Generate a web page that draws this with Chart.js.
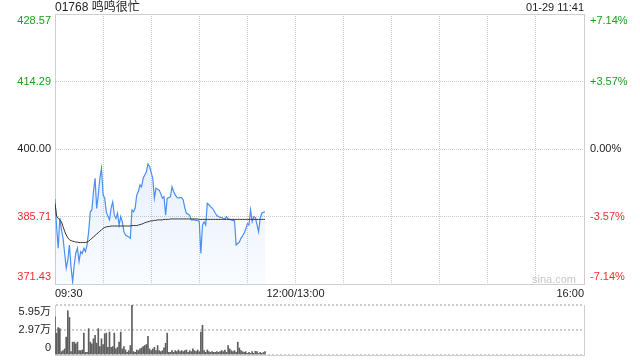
<!DOCTYPE html>
<html><head><meta charset="utf-8">
<script src="https://cdn.jsdelivr.net/npm/chart.js@4"></script>
<style>
html,body{margin:0;padding:0;background:#fff;width:640px;height:360px;overflow:hidden;font-family:"Liberation Sans",Arial,"Noto Sans CJK SC",sans-serif;}
#price{position:absolute;left:0;top:0;}
#vol{position:absolute;left:0;top:300px;}
.txt{position:absolute;white-space:nowrap;}
</style></head><body>
<canvas id="price" width="640" height="300"></canvas>
<canvas id="vol" width="640" height="60"></canvas>
<div class="txt" style="left:55px;top:0px;font-size:12px;line-height:14px;color:#222">01768 鸣鸣很忙</div>
<div class="txt" style="right:56px;top:0px;font-size:11px;line-height:14px;color:#222">01-29 11:41</div>
<div class="txt" style="left:532px;top:272px;font-size:11px;line-height:14px;color:#c8c8c8">sina.com</div>
<script>
const prevClose = 400;
const priceTicks = [371.43, 385.71, 400.00, 414.29, 428.57];
const priceTickLabels = ['371.43', '385.71', '400.00', '414.29', '428.57'];
const pctTickLabels = ['-7.14%', '-3.57%', '0.00%', '+3.57%', '+7.14%'];
const xTickMinutes = [0, 30, 60, 90, 120, 150, 180, 210, 240, 270, 300, 330];
const xTickLabels = ['09:30', '', '', '', '', '12:00/13:00', '', '', '', '', '', '16:00'];
const volTicks = [0, 29750, 59500];
const volTickLabels = ['0', '2.97万', '5.95万'];

const priceValues = [389.4,383.5,379.0,385.4,383.0,381.2,378.0,374.8,376.5,379.7,
375.0,371.9,375.5,378.0,379.0,376.2,378.3,377.9,379.0,378.3,
379.7,382.5,386.7,387.1,391.0,393.8,387.4,390.3,393.8,395.9,
390.3,389.6,386.7,385.8,385.0,387.5,388.8,386.0,385.3,386.4,
383.9,385.7,384.6,382.5,381.8,381.6,381.4,381.1,387.1,386.7,
387.5,390.3,391.0,392.4,392.0,393.8,394.5,395.2,396.8,396.3,
395.0,393.8,389.6,391.7,391.5,391.3,390.5,389.6,389.9,386.0,
389.6,389.7,389.9,392.0,391.0,390.3,389.8,389.6,389.7,389.7,
389.2,387.5,386.4,386.2,386.0,385.0,385.0,385.0,384.9,384.9,
384.6,377.9,383.9,384.6,383.9,388.5,388.2,387.8,387.5,387.1,
386.4,385.9,385.7,385.5,385.5,385.3,385.2,385.7,385.2,385.1,
385.0,384.9,384.8,379.7,380.0,380.3,381.1,381.6,382.2,383.0,
384.2,383.9,387.1,384.6,385.7,385.5,384.0,382.5,385.3,386.4,
386.6,386.7];

const avgValues = [388.5,385.8,385.3,385.0,384.6,383.6,382.6,381.8,381.2,380.8,
380.6,380.5,380.4,380.3,380.3,380.2,380.2,380.2,380.2,380.2,
380.3,380.5,380.8,381.1,381.4,381.7,382.0,382.3,382.6,382.9,
383.2,383.4,383.5,383.6,383.6,383.7,383.7,383.7,383.7,383.7,
383.7,383.7,383.7,383.7,383.7,383.7,383.7,383.7,383.8,383.8,
383.8,383.8,383.9,384.0,384.1,384.2,384.4,384.5,384.6,384.7,
384.8,384.8,384.9,384.9,385.0,385.0,385.0,385.0,385.1,385.1,
385.1,385.1,385.2,385.2,385.2,385.2,385.2,385.2,385.2,385.2,
385.2,385.2,385.2,385.2,385.2,385.2,385.2,385.2,385.2,385.2,
385.1,385.1,385.1,385.1,385.1,385.1,385.1,385.1,385.1,385.1,
385.1,385.1,385.1,385.1,385.1,385.1,385.1,385.1,385.1,385.1,
385.1,385.1,385.1,385.1,385.1,385.1,385.1,385.1,385.1,385.1,
385.1,385.1,385.1,385.1,385.1,385.1,385.1,385.1,385.1,385.1,
385.1,385.1];

const volumeValues = [45400,26100,32600,31400,4000,5200,7200,21300,52700,44600,
4000,15300,15300,13300,15300,5200,5200,6000,26100,3200,
3200,31400,15300,13300,19300,23300,14100,31400,10000,19300,
12500,25300,26100,9200,27300,9200,10000,26100,7200,9200,
15300,27300,7200,10000,6000,3200,5200,11300,59500,4000,
3200,6000,5200,7200,8400,10000,11300,12500,22100,7200,
5200,7200,9200,5200,11300,5200,4000,5200,8400,14000,
26000,3200,3200,5200,3200,5200,4000,6000,4000,5200,
4000,5200,6000,3200,5200,4000,7200,5200,4000,6000,
4000,27300,35400,5200,3200,6000,4000,3200,4000,3200,
3200,4000,3200,4000,5200,4000,6000,3200,11300,7200,
5200,4000,5200,3200,15300,8400,5200,4000,3200,4000,
2000,3200,2000,4000,2000,4400,4000,2000,3200,2000,
3000,4000];

const FONT = '"Liberation Sans", Arial, "Noto Sans CJK SC", sans-serif';
const GREEN = '#1a9f1a', RED = '#f02c2c', DARK = '#222';
const GRID = '#cccccc', BORDER = '#cfcfcf';

function edgeLabel(text, idx, n) {
  if (idx === n - 1) return ['', text];
  if (idx === 0) return [text, ''];
  return text;
}
function noPad(s) { s.paddingTop = 0; s.paddingBottom = 0; }
const pctMin = (priceTicks[0] / prevClose - 1) * 100;
const pctMax = (priceTicks[priceTicks.length - 1] / prevClose - 1) * 100;
const pctTicks = priceTicks.map(p => (p / prevClose - 1) * 100);
function tickColor(i) { return i > 2 ? GREEN : (i < 2 ? RED : DARK); }

new Chart(document.getElementById('price'), {
  type: 'line',
  data: {
    datasets: [
      {
        data: avgValues.map((v, i) => ({x: i, y: v})),
        borderColor: '#333', borderWidth: 1, pointRadius: 0, fill: false, tension: 0, order: 1
      },
      {
        data: priceValues.map((v, i) => ({x: i, y: v})),
        borderColor: '#4a8ef2', borderWidth: 1.2, pointRadius: 0, tension: 0, fill: 'start', order: 2,
        backgroundColor: (ctx) => {
          const ca = ctx.chart.chartArea;
          if (!ca) return 'rgba(74,142,242,0.1)';
          const g = ctx.chart.ctx.createLinearGradient(0, ca.top, 0, ca.bottom);
          g.addColorStop(0, 'rgba(74,142,242,0.25)');
          g.addColorStop(1, 'rgba(74,142,242,0.03)');
          return g;
        }
      }
    ]
  },
  options: {
    responsive: false, animation: false, devicePixelRatio: 1,
    layout: {padding: {top: 14, left: 0, right: 0, bottom: 0}},
    plugins: {legend: {display: false}, tooltip: {enabled: false}},
    scales: {
      x: {
        type: 'linear', position: 'bottom', min: 0, max: 330,
        afterBuildTicks: s => { s.ticks = xTickMinutes.map(v => ({value: v})); },
        afterFit: s => { s.height = 16; },
        ticks: {autoSkip: false, maxRotation: 0, minRotation: 0, align: 'inner', padding: 3,
          font: {size: 11, family: FONT}, color: DARK,
          callback: (v) => { const k = xTickMinutes.indexOf(v); return k >= 0 ? xTickLabels[k] : ''; }},
        grid: {color: GRID, lineWidth: 1, drawTicks: false},
        border: {display: true, color: BORDER, dash: [1, 1]}
      },
      xt: {
        type: 'linear', position: 'top', min: 0, max: 330,
        afterFit: s => { s.height = 0; },
        ticks: {display: false}, grid: {display: false, drawTicks: false},
        border: {display: true, color: BORDER}
      },
      y: {
        type: 'linear', position: 'left', min: priceTicks[0], max: priceTicks[priceTicks.length - 1],
        afterBuildTicks: s => { s.ticks = priceTicks.map(v => ({value: v})); },
        afterFit: s => { s.width = 55; noPad(s); },
        ticks: {autoSkip: false, padding: 4, font: {size: 11, family: FONT},
          color: (c) => tickColor(c.index),
          callback: (v, i) => edgeLabel(priceTickLabels[i], i, priceTicks.length)},
        grid: {color: GRID, lineWidth: 1, drawTicks: false},
        border: {display: true, color: BORDER, dash: [1, 1]}
      },
      y2: {
        type: 'linear', position: 'right', min: pctMin, max: pctMax,
        afterBuildTicks: s => { s.ticks = pctTicks.map(v => ({value: v})); },
        afterFit: s => { s.width = 56; noPad(s); },
        ticks: {autoSkip: false, padding: 6, font: {size: 11, family: FONT},
          color: (c) => tickColor(c.index),
          callback: (v, i) => edgeLabel(pctTickLabels[i], i, pctTicks.length)},
        grid: {display: false, drawTicks: false},
        border: {display: true, color: BORDER}
      }
    }
  }
});

new Chart(document.getElementById('vol'), {
  type: 'bar',
  data: {
    datasets: [{
      data: volumeValues.map((v, i) => ({x: i, y: v})),
      backgroundColor: '#5e5e5e', borderWidth: 0, barThickness: 1
    }]
  },
  options: {
    responsive: false, animation: false, devicePixelRatio: 1,
    layout: {padding: {top: 5, bottom: 5, left: 0, right: 0}},
    plugins: {legend: {display: false}, tooltip: {enabled: false}},
    scales: {
      x: {
        type: 'linear', min: 0, max: 330, offset: false,
        afterFit: s => { s.height = 0; s.paddingLeft = 0; s.paddingRight = 0; },
        ticks: {display: false}, grid: {display: false, drawTicks: false},
        border: {display: true, color: BORDER}
      },
      y: {
        type: 'linear', position: 'left', min: 0, max: volTicks[volTicks.length - 1],
        afterBuildTicks: s => { s.ticks = volTicks.map(v => ({value: v})); },
        afterFit: s => { s.width = 55; noPad(s); },
        ticks: {autoSkip: false, padding: 4, font: {size: 11, family: FONT}, color: DARK,
          callback: (v, i) => edgeLabel(volTickLabels[i], i, volTicks.length)},
        grid: {color: GRID, lineWidth: 2, drawTicks: false},
        border: {display: true, color: BORDER, dash: [2, 2]}
      },
      y2: {
        type: 'linear', position: 'right', min: 0, max: volTicks[volTicks.length - 1],
        afterFit: s => { s.width = 56; noPad(s); },
        ticks: {display: false}, grid: {display: false, drawTicks: false},
        border: {display: true, color: BORDER}
      }
    }
  }
});
</script>
</body></html>
